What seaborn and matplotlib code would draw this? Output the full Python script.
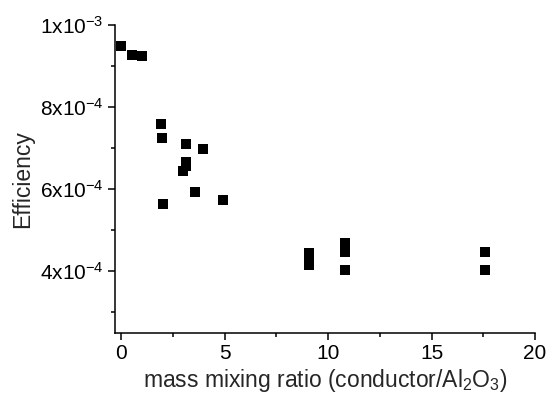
import matplotlib
matplotlib.use("Agg")
import matplotlib.pyplot as plt
import seaborn as sns
import pandas as pd
from matplotlib.ticker import MultipleLocator, FixedLocator

ratio = [0.0, 0.5, 1.0, 1.92, 1.97, 3.11, 3.95, 3.11, 3.11, 2.98, 3.56, 2.03, 4.92,
         9.08, 9.08, 9.08, 9.08, 10.82, 10.82, 10.82, 17.58, 17.58]
efficiency = [9.49e-4, 9.26e-4, 9.24e-4, 7.585e-4, 7.24e-4, 7.10e-4, 6.98e-4, 6.66e-4,
              6.57e-4, 6.45e-4, 5.93e-4, 5.63e-4, 5.73e-4,
              4.45e-4, 4.36e-4, 4.26e-4, 4.15e-4, 4.68e-4, 4.47e-4, 4.04e-4, 4.46e-4, 4.02e-4]
ytick_vals = [4e-4, 6e-4, 8e-4, 1e-3]
ytick_labels = [r"$\mathregular{4x10^{-4}}$", r"$\mathregular{6x10^{-4}}$",
                r"$\mathregular{8x10^{-4}}$", r"$\mathregular{1x10^{-3}}$"]

df = pd.DataFrame({"ratio": ratio, "efficiency": efficiency})

sns.set_style("ticks")
plt.rcParams["font.family"] = ["Liberation Sans", "DejaVu Sans"]
plt.rcParams["mathtext.fontset"] = "custom"
plt.rcParams["mathtext.rm"] = "Liberation Sans"

fig = plt.figure(figsize=(5.49, 3.97), dpi=100)
ax = fig.add_axes([0.2095, 0.162, 0.765, 0.775])
sns.scatterplot(data=df, x="ratio", y="efficiency", marker="s", s=50, color="black",
                edgecolor="black", linewidth=0, ax=ax, legend=False)

ax.set_xlim(-0.3, 20)
ax.set_ylim(2.5e-4, 1e-3)
ax.xaxis.set_major_locator(MultipleLocator(5))
ax.xaxis.set_minor_locator(MultipleLocator(2.5))
ax.yaxis.set_major_locator(FixedLocator(ytick_vals))
ax.yaxis.set_minor_locator(FixedLocator([3e-4, 5e-4, 7e-4, 9e-4]))
ax.set_yticklabels(ytick_labels)
for s in ["top", "right"]:
    ax.spines[s].set_visible(False)
for s in ["left", "bottom"]:
    ax.spines[s].set_linewidth(1.1)
    ax.spines[s].set_color("black")
ax.tick_params(which="major", length=5, width=1.1, direction="out", labelsize=15, colors="black", pad=3)
ax.tick_params(which="minor", length=3, width=1.1, direction="out", colors="black")
ax.set_xlabel(r"mass mixing ratio (conductor/Al$\mathregular{_2}$O$\mathregular{_3}$)", fontsize=16.5, labelpad=3)
ax.set_ylabel("Efficiency", fontsize=16.5, labelpad=4)
fig.savefig("out.png", dpi=100)
